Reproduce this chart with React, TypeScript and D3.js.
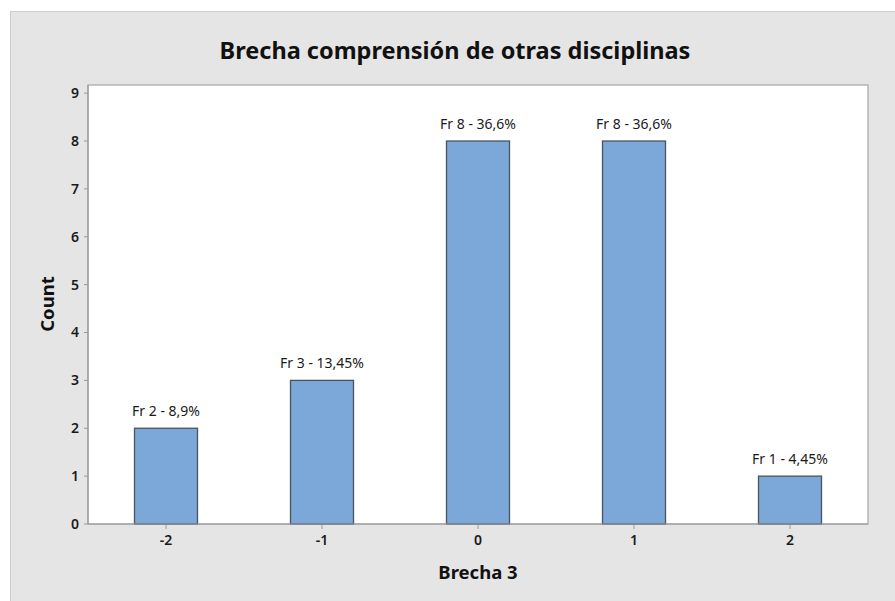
import React from "react";
import * as d3 from "d3";

const categories = ["-2", "-1", "0", "1", "2"];
const counts = [2, 3, 8, 8, 1];
const barLabels = ["Fr 2 - 8,9%", "Fr 3 - 13,45%", "Fr 8 - 36,6%", "Fr 8 - 36,6%", "Fr 1 - 4,45%"];
const yTicks = [0, 1, 2, 3, 4, 5, 6, 7, 8, 9];
const title = "Brecha comprensión de otras disciplinas";
const xTitle = "Brecha 3";
const yTitle = "Count";

const W = 895;
const H = 601;
const plot = { left: 88, right: 868, top: 85, bottom: 524 };
const font = "'Noto Sans', 'Open Sans', sans-serif";

export default function App() {
  const x = d3
    .scaleBand<string>()
    .domain(categories)
    .range([plot.left, plot.right])
    .paddingInner(0.596)
    .paddingOuter(0.298);
  const y = d3.scaleLinear().domain([0, 9.17]).range([plot.bottom, plot.top]);
  const bw = x.bandwidth();
  const axisColor = "#9a9a9a";

  return (
    <svg
      width={W}
      height={H}
      style={{ position: "absolute", left: 0, top: 0, display: "block" }}
      fontFamily={font}
    >
      <rect x={0} y={0} width={W} height={H} fill="#ffffff" />
      <rect x={10.5} y={11.5} width={W} height={H} fill="#e5e5e5" stroke="#cdcdcd" />
      <text x={455} y={59} textAnchor="middle" fontSize={23.5} fontWeight={700} fill="#111">
        {title}
      </text>
      <rect
        x={plot.left}
        y={plot.top}
        width={plot.right - plot.left}
        height={plot.bottom - plot.top}
        fill="#ffffff"
        stroke="#a6a6a6"
        strokeWidth={1.2}
      />
      {yTicks.map((t) => (
        <g key={t}>
          <line x1={plot.left - 4} x2={plot.left} y1={y(t)} y2={y(t)} stroke={axisColor} />
          <text
            x={plot.left - 9}
            y={y(t)}
            dy="0.35em"
            textAnchor="end"
            fontSize={14}
            fontWeight={600}
            fill="#1a1a1a"
          >
            {t}
          </text>
        </g>
      ))}
      {categories.map((c) => {
        const cx = (x(c) as number) + bw / 2;
        return (
          <g key={c}>
            <line x1={cx} x2={cx} y1={plot.bottom} y2={plot.bottom + 5} stroke={axisColor} />
            <text x={cx} y={plot.bottom + 21} textAnchor="middle" fontSize={14} fontWeight={600} fill="#1a1a1a">
              {c}
            </text>
          </g>
        );
      })}
      {categories.map((c, i) => (
        <g key={"b" + c}>
          <rect
            x={x(c) as number}
            y={y(counts[i])}
            width={bw}
            height={y(0) - y(counts[i])}
            fill="#7ba7d9"
            stroke="#4a545e"
            strokeWidth={1.3}
          />
          <text
            x={(x(c) as number) + bw / 2}
            y={y(counts[i]) - 12}
            textAnchor="middle"
            fontSize={14}
            fill="#1a1a1a"
          >
            {barLabels[i]}
          </text>
        </g>
      ))}
      <line x1={plot.left} x2={plot.right} y1={plot.bottom} y2={plot.bottom} stroke={axisColor} strokeWidth={1.2} />
      <line x1={plot.left} x2={plot.left} y1={plot.top} y2={plot.bottom} stroke={axisColor} strokeWidth={1.2} />
      <text x={478} y={579} textAnchor="middle" fontSize={18.5} fontWeight={700} fill="#111">
        {xTitle}
      </text>
      <text
        transform={`translate(${54},${304}) rotate(-90)`}
        textAnchor="middle"
        fontSize={18.5}
        fontWeight={700}
        fill="#111"
      >
        {yTitle}
      </text>
    </svg>
  );
}
